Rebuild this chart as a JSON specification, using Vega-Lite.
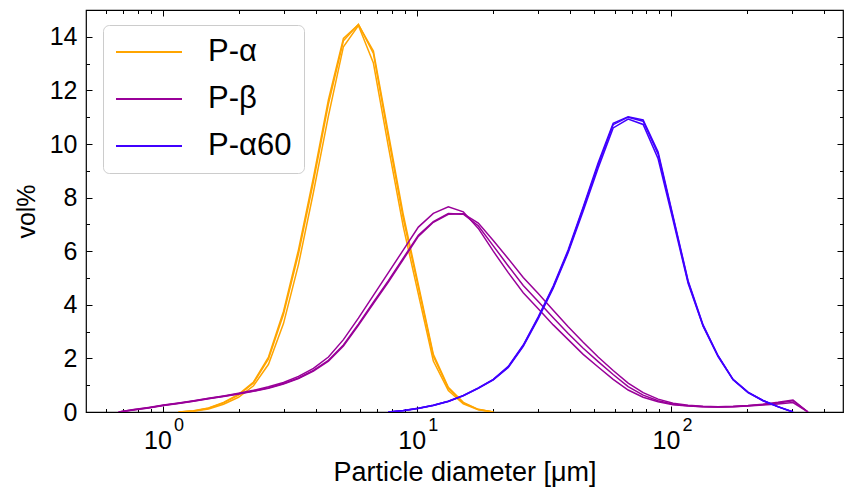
{
  "$schema": "https://vega.github.io/schema/vega-lite/v6.json",
  "width": 757,
  "height": 402,
  "autosize": {"type": "none"},
  "padding": {"left": 86, "top": 10, "right": 1, "bottom": 82},
  "background": "white",
  "config": {
    "font": "Liberation Sans",
    "view": {"stroke": "black", "strokeWidth": 1.2},
    "axis": {"domain": false, "grid": false, "tickColor": "black", "labelColor": "black", "titleColor": "black", "titleFontWeight": "normal", "labelFlush": false, "labelOverlap": false}
  },
  "data": {"values": [
    {"sample": "P-α", "run": "a1", "diameter": 1.1565, "vol": 0},
    {"sample": "P-α", "run": "a1", "diameter": 1.3246, "vol": 0.05},
    {"sample": "P-α", "run": "a1", "diameter": 1.5172, "vol": 0.15},
    {"sample": "P-α", "run": "a1", "diameter": 1.7377, "vol": 0.36},
    {"sample": "P-α", "run": "a1", "diameter": 1.9904, "vol": 0.66},
    {"sample": "P-α", "run": "a1", "diameter": 2.2797, "vol": 1.12},
    {"sample": "P-α", "run": "a1", "diameter": 2.6111, "vol": 2.05},
    {"sample": "P-α", "run": "a1", "diameter": 2.9907, "vol": 3.75},
    {"sample": "P-α", "run": "a1", "diameter": 3.4255, "vol": 6.05},
    {"sample": "P-α", "run": "a1", "diameter": 3.9234, "vol": 8.75},
    {"sample": "P-α", "run": "a1", "diameter": 4.4938, "vol": 11.65},
    {"sample": "P-α", "run": "a1", "diameter": 5.1471, "vol": 13.94},
    {"sample": "P-α", "run": "a1", "diameter": 5.8953, "vol": 14.45},
    {"sample": "P-α", "run": "a1", "diameter": 6.7523, "vol": 13.47},
    {"sample": "P-α", "run": "a1", "diameter": 7.7339, "vol": 10.4},
    {"sample": "P-α", "run": "a1", "diameter": 8.8583, "vol": 7.35},
    {"sample": "P-α", "run": "a1", "diameter": 10.146, "vol": 4.75},
    {"sample": "P-α", "run": "a1", "diameter": 11.621, "vol": 2.15},
    {"sample": "P-α", "run": "a1", "diameter": 13.31, "vol": 0.92},
    {"sample": "P-α", "run": "a1", "diameter": 15.245, "vol": 0.36},
    {"sample": "P-α", "run": "a1", "diameter": 17.462, "vol": 0.1},
    {"sample": "P-α", "run": "a1", "diameter": 20.0, "vol": 0},
    {"sample": "P-α", "run": "a2", "diameter": 1.1565, "vol": 0},
    {"sample": "P-α", "run": "a2", "diameter": 1.3246, "vol": 0.03},
    {"sample": "P-α", "run": "a2", "diameter": 1.5172, "vol": 0.11},
    {"sample": "P-α", "run": "a2", "diameter": 1.7377, "vol": 0.29},
    {"sample": "P-α", "run": "a2", "diameter": 1.9904, "vol": 0.55},
    {"sample": "P-α", "run": "a2", "diameter": 2.2797, "vol": 0.98},
    {"sample": "P-α", "run": "a2", "diameter": 2.6111, "vol": 1.78},
    {"sample": "P-α", "run": "a2", "diameter": 2.9907, "vol": 3.3},
    {"sample": "P-α", "run": "a2", "diameter": 3.4255, "vol": 5.5},
    {"sample": "P-α", "run": "a2", "diameter": 3.9234, "vol": 8.2},
    {"sample": "P-α", "run": "a2", "diameter": 4.4938, "vol": 11.05},
    {"sample": "P-α", "run": "a2", "diameter": 5.1471, "vol": 13.63},
    {"sample": "P-α", "run": "a2", "diameter": 5.8953, "vol": 14.42},
    {"sample": "P-α", "run": "a2", "diameter": 6.7523, "vol": 13.02},
    {"sample": "P-α", "run": "a2", "diameter": 7.7339, "vol": 9.9},
    {"sample": "P-α", "run": "a2", "diameter": 8.8583, "vol": 6.9},
    {"sample": "P-α", "run": "a2", "diameter": 10.146, "vol": 4.4},
    {"sample": "P-α", "run": "a2", "diameter": 11.621, "vol": 1.9},
    {"sample": "P-α", "run": "a2", "diameter": 13.31, "vol": 0.8},
    {"sample": "P-α", "run": "a2", "diameter": 15.245, "vol": 0.3},
    {"sample": "P-α", "run": "a2", "diameter": 17.462, "vol": 0.08},
    {"sample": "P-α", "run": "a2", "diameter": 20.0, "vol": 0},
    {"sample": "P-α", "run": "a3", "diameter": 1.1565, "vol": 0},
    {"sample": "P-α", "run": "a3", "diameter": 1.3246, "vol": 0.04},
    {"sample": "P-α", "run": "a3", "diameter": 1.5172, "vol": 0.14},
    {"sample": "P-α", "run": "a3", "diameter": 1.7377, "vol": 0.34},
    {"sample": "P-α", "run": "a3", "diameter": 1.9904, "vol": 0.63},
    {"sample": "P-α", "run": "a3", "diameter": 2.2797, "vol": 1.08},
    {"sample": "P-α", "run": "a3", "diameter": 2.6111, "vol": 1.98},
    {"sample": "P-α", "run": "a3", "diameter": 2.9907, "vol": 3.65},
    {"sample": "P-α", "run": "a3", "diameter": 3.4255, "vol": 5.9},
    {"sample": "P-α", "run": "a3", "diameter": 3.9234, "vol": 8.6},
    {"sample": "P-α", "run": "a3", "diameter": 4.4938, "vol": 11.5},
    {"sample": "P-α", "run": "a3", "diameter": 5.1471, "vol": 13.85},
    {"sample": "P-α", "run": "a3", "diameter": 5.8953, "vol": 14.47},
    {"sample": "P-α", "run": "a3", "diameter": 6.7523, "vol": 13.38},
    {"sample": "P-α", "run": "a3", "diameter": 7.7339, "vol": 10.25},
    {"sample": "P-α", "run": "a3", "diameter": 8.8583, "vol": 7.2},
    {"sample": "P-α", "run": "a3", "diameter": 10.146, "vol": 4.65},
    {"sample": "P-α", "run": "a3", "diameter": 11.621, "vol": 2.08},
    {"sample": "P-α", "run": "a3", "diameter": 13.31, "vol": 0.88},
    {"sample": "P-α", "run": "a3", "diameter": 15.245, "vol": 0.34},
    {"sample": "P-α", "run": "a3", "diameter": 17.462, "vol": 0.09},
    {"sample": "P-α", "run": "a3", "diameter": 20.0, "vol": 0},

    {"sample": "P-β", "run": "b1", "diameter": 0.672, "vol": 0},
    {"sample": "P-β", "run": "b1", "diameter": 0.7697, "vol": 0.09},
    {"sample": "P-β", "run": "b1", "diameter": 0.8816, "vol": 0.17},
    {"sample": "P-β", "run": "b1", "diameter": 1.0097, "vol": 0.26},
    {"sample": "P-β", "run": "b1", "diameter": 1.1565, "vol": 0.34},
    {"sample": "P-β", "run": "b1", "diameter": 1.3246, "vol": 0.42},
    {"sample": "P-β", "run": "b1", "diameter": 1.5172, "vol": 0.51},
    {"sample": "P-β", "run": "b1", "diameter": 1.7377, "vol": 0.6},
    {"sample": "P-β", "run": "b1", "diameter": 1.9904, "vol": 0.7},
    {"sample": "P-β", "run": "b1", "diameter": 2.2797, "vol": 0.81},
    {"sample": "P-β", "run": "b1", "diameter": 2.6111, "vol": 0.94},
    {"sample": "P-β", "run": "b1", "diameter": 2.9907, "vol": 1.1},
    {"sample": "P-β", "run": "b1", "diameter": 3.4255, "vol": 1.33},
    {"sample": "P-β", "run": "b1", "diameter": 3.9234, "vol": 1.63},
    {"sample": "P-β", "run": "b1", "diameter": 4.4938, "vol": 2.05},
    {"sample": "P-β", "run": "b1", "diameter": 5.1471, "vol": 2.7},
    {"sample": "P-β", "run": "b1", "diameter": 5.8953, "vol": 3.5},
    {"sample": "P-β", "run": "b1", "diameter": 6.7523, "vol": 4.35},
    {"sample": "P-β", "run": "b1", "diameter": 7.7339, "vol": 5.2},
    {"sample": "P-β", "run": "b1", "diameter": 8.8583, "vol": 6.05},
    {"sample": "P-β", "run": "b1", "diameter": 10.146, "vol": 6.9},
    {"sample": "P-β", "run": "b1", "diameter": 11.621, "vol": 7.41},
    {"sample": "P-β", "run": "b1", "diameter": 13.31, "vol": 7.66},
    {"sample": "P-β", "run": "b1", "diameter": 15.245, "vol": 7.47},
    {"sample": "P-β", "run": "b1", "diameter": 17.462, "vol": 6.85},
    {"sample": "P-β", "run": "b1", "diameter": 20.0, "vol": 6.0},
    {"sample": "P-β", "run": "b1", "diameter": 22.908, "vol": 5.2},
    {"sample": "P-β", "run": "b1", "diameter": 26.238, "vol": 4.45},
    {"sample": "P-β", "run": "b1", "diameter": 30.052, "vol": 3.85},
    {"sample": "P-β", "run": "b1", "diameter": 34.421, "vol": 3.25},
    {"sample": "P-β", "run": "b1", "diameter": 39.424, "vol": 2.7},
    {"sample": "P-β", "run": "b1", "diameter": 45.156, "vol": 2.15},
    {"sample": "P-β", "run": "b1", "diameter": 51.72, "vol": 1.68},
    {"sample": "P-β", "run": "b1", "diameter": 59.239, "vol": 1.22},
    {"sample": "P-β", "run": "b1", "diameter": 67.85, "vol": 0.82},
    {"sample": "P-β", "run": "b1", "diameter": 77.714, "vol": 0.55},
    {"sample": "P-β", "run": "b1", "diameter": 89.012, "vol": 0.38},
    {"sample": "P-β", "run": "b1", "diameter": 101.95, "vol": 0.27},
    {"sample": "P-β", "run": "b1", "diameter": 116.77, "vol": 0.22},
    {"sample": "P-β", "run": "b1", "diameter": 133.75, "vol": 0.2},
    {"sample": "P-β", "run": "b1", "diameter": 153.19, "vol": 0.19},
    {"sample": "P-β", "run": "b1", "diameter": 175.46, "vol": 0.2},
    {"sample": "P-β", "run": "b1", "diameter": 200.97, "vol": 0.23},
    {"sample": "P-β", "run": "b1", "diameter": 230.18, "vol": 0.28},
    {"sample": "P-β", "run": "b1", "diameter": 263.65, "vol": 0.34},
    {"sample": "P-β", "run": "b1", "diameter": 301.97, "vol": 0.42},
    {"sample": "P-β", "run": "b1", "diameter": 345.87, "vol": 0},
    {"sample": "P-β", "run": "b2", "diameter": 0.672, "vol": 0},
    {"sample": "P-β", "run": "b2", "diameter": 0.7697, "vol": 0.08},
    {"sample": "P-β", "run": "b2", "diameter": 0.8816, "vol": 0.16},
    {"sample": "P-β", "run": "b2", "diameter": 1.0097, "vol": 0.25},
    {"sample": "P-β", "run": "b2", "diameter": 1.1565, "vol": 0.33},
    {"sample": "P-β", "run": "b2", "diameter": 1.3246, "vol": 0.41},
    {"sample": "P-β", "run": "b2", "diameter": 1.5172, "vol": 0.5},
    {"sample": "P-β", "run": "b2", "diameter": 1.7377, "vol": 0.59},
    {"sample": "P-β", "run": "b2", "diameter": 1.9904, "vol": 0.68},
    {"sample": "P-β", "run": "b2", "diameter": 2.2797, "vol": 0.78},
    {"sample": "P-β", "run": "b2", "diameter": 2.6111, "vol": 0.9},
    {"sample": "P-β", "run": "b2", "diameter": 2.9907, "vol": 1.06},
    {"sample": "P-β", "run": "b2", "diameter": 3.4255, "vol": 1.27},
    {"sample": "P-β", "run": "b2", "diameter": 3.9234, "vol": 1.55},
    {"sample": "P-β", "run": "b2", "diameter": 4.4938, "vol": 1.93},
    {"sample": "P-β", "run": "b2", "diameter": 5.1471, "vol": 2.5},
    {"sample": "P-β", "run": "b2", "diameter": 5.8953, "vol": 3.28},
    {"sample": "P-β", "run": "b2", "diameter": 6.7523, "vol": 4.1},
    {"sample": "P-β", "run": "b2", "diameter": 7.7339, "vol": 4.9},
    {"sample": "P-β", "run": "b2", "diameter": 8.8583, "vol": 5.75},
    {"sample": "P-β", "run": "b2", "diameter": 10.146, "vol": 6.6},
    {"sample": "P-β", "run": "b2", "diameter": 11.621, "vol": 7.1},
    {"sample": "P-β", "run": "b2", "diameter": 13.31, "vol": 7.41},
    {"sample": "P-β", "run": "b2", "diameter": 15.245, "vol": 7.38},
    {"sample": "P-β", "run": "b2", "diameter": 17.462, "vol": 6.95},
    {"sample": "P-β", "run": "b2", "diameter": 20.0, "vol": 6.2},
    {"sample": "P-β", "run": "b2", "diameter": 22.908, "vol": 5.45},
    {"sample": "P-β", "run": "b2", "diameter": 26.238, "vol": 4.72},
    {"sample": "P-β", "run": "b2", "diameter": 30.052, "vol": 4.12},
    {"sample": "P-β", "run": "b2", "diameter": 34.421, "vol": 3.52},
    {"sample": "P-β", "run": "b2", "diameter": 39.424, "vol": 2.93},
    {"sample": "P-β", "run": "b2", "diameter": 45.156, "vol": 2.38},
    {"sample": "P-β", "run": "b2", "diameter": 51.72, "vol": 1.88},
    {"sample": "P-β", "run": "b2", "diameter": 59.239, "vol": 1.4},
    {"sample": "P-β", "run": "b2", "diameter": 67.85, "vol": 0.95},
    {"sample": "P-β", "run": "b2", "diameter": 77.714, "vol": 0.63},
    {"sample": "P-β", "run": "b2", "diameter": 89.012, "vol": 0.42},
    {"sample": "P-β", "run": "b2", "diameter": 101.95, "vol": 0.29},
    {"sample": "P-β", "run": "b2", "diameter": 116.77, "vol": 0.23},
    {"sample": "P-β", "run": "b2", "diameter": 133.75, "vol": 0.2},
    {"sample": "P-β", "run": "b2", "diameter": 153.19, "vol": 0.19},
    {"sample": "P-β", "run": "b2", "diameter": 175.46, "vol": 0.2},
    {"sample": "P-β", "run": "b2", "diameter": 200.97, "vol": 0.22},
    {"sample": "P-β", "run": "b2", "diameter": 230.18, "vol": 0.26},
    {"sample": "P-β", "run": "b2", "diameter": 263.65, "vol": 0.3},
    {"sample": "P-β", "run": "b2", "diameter": 301.97, "vol": 0.35},
    {"sample": "P-β", "run": "b2", "diameter": 345.87, "vol": 0},
    {"sample": "P-β", "run": "b3", "diameter": 0.672, "vol": 0},
    {"sample": "P-β", "run": "b3", "diameter": 0.7697, "vol": 0.07},
    {"sample": "P-β", "run": "b3", "diameter": 0.8816, "vol": 0.15},
    {"sample": "P-β", "run": "b3", "diameter": 1.0097, "vol": 0.24},
    {"sample": "P-β", "run": "b3", "diameter": 1.1565, "vol": 0.32},
    {"sample": "P-β", "run": "b3", "diameter": 1.3246, "vol": 0.4},
    {"sample": "P-β", "run": "b3", "diameter": 1.5172, "vol": 0.49},
    {"sample": "P-β", "run": "b3", "diameter": 1.7377, "vol": 0.58},
    {"sample": "P-β", "run": "b3", "diameter": 1.9904, "vol": 0.67},
    {"sample": "P-β", "run": "b3", "diameter": 2.2797, "vol": 0.77},
    {"sample": "P-β", "run": "b3", "diameter": 2.6111, "vol": 0.89},
    {"sample": "P-β", "run": "b3", "diameter": 2.9907, "vol": 1.04},
    {"sample": "P-β", "run": "b3", "diameter": 3.4255, "vol": 1.25},
    {"sample": "P-β", "run": "b3", "diameter": 3.9234, "vol": 1.53},
    {"sample": "P-β", "run": "b3", "diameter": 4.4938, "vol": 1.9},
    {"sample": "P-β", "run": "b3", "diameter": 5.1471, "vol": 2.46},
    {"sample": "P-β", "run": "b3", "diameter": 5.8953, "vol": 3.23},
    {"sample": "P-β", "run": "b3", "diameter": 6.7523, "vol": 4.05},
    {"sample": "P-β", "run": "b3", "diameter": 7.7339, "vol": 4.85},
    {"sample": "P-β", "run": "b3", "diameter": 8.8583, "vol": 5.7},
    {"sample": "P-β", "run": "b3", "diameter": 10.146, "vol": 6.55},
    {"sample": "P-β", "run": "b3", "diameter": 11.621, "vol": 7.08},
    {"sample": "P-β", "run": "b3", "diameter": 13.31, "vol": 7.38},
    {"sample": "P-β", "run": "b3", "diameter": 15.245, "vol": 7.4},
    {"sample": "P-β", "run": "b3", "diameter": 17.462, "vol": 7.05},
    {"sample": "P-β", "run": "b3", "diameter": 20.0, "vol": 6.4},
    {"sample": "P-β", "run": "b3", "diameter": 22.908, "vol": 5.72},
    {"sample": "P-β", "run": "b3", "diameter": 26.238, "vol": 5.02},
    {"sample": "P-β", "run": "b3", "diameter": 30.052, "vol": 4.42},
    {"sample": "P-β", "run": "b3", "diameter": 34.421, "vol": 3.8},
    {"sample": "P-β", "run": "b3", "diameter": 39.424, "vol": 3.18},
    {"sample": "P-β", "run": "b3", "diameter": 45.156, "vol": 2.6},
    {"sample": "P-β", "run": "b3", "diameter": 51.72, "vol": 2.05},
    {"sample": "P-β", "run": "b3", "diameter": 59.239, "vol": 1.55},
    {"sample": "P-β", "run": "b3", "diameter": 67.85, "vol": 1.08},
    {"sample": "P-β", "run": "b3", "diameter": 77.714, "vol": 0.72},
    {"sample": "P-β", "run": "b3", "diameter": 89.012, "vol": 0.48},
    {"sample": "P-β", "run": "b3", "diameter": 101.95, "vol": 0.33},
    {"sample": "P-β", "run": "b3", "diameter": 116.77, "vol": 0.25},
    {"sample": "P-β", "run": "b3", "diameter": 133.75, "vol": 0.21},
    {"sample": "P-β", "run": "b3", "diameter": 153.19, "vol": 0.2},
    {"sample": "P-β", "run": "b3", "diameter": 175.46, "vol": 0.21},
    {"sample": "P-β", "run": "b3", "diameter": 200.97, "vol": 0.24},
    {"sample": "P-β", "run": "b3", "diameter": 230.18, "vol": 0.29},
    {"sample": "P-β", "run": "b3", "diameter": 263.65, "vol": 0.36},
    {"sample": "P-β", "run": "b3", "diameter": 301.97, "vol": 0.45},
    {"sample": "P-β", "run": "b3", "diameter": 345.87, "vol": 0},

    {"sample": "P-α60", "run": "c1", "diameter": 7.7339, "vol": 0},
    {"sample": "P-α60", "run": "c1", "diameter": 8.8583, "vol": 0.06},
    {"sample": "P-α60", "run": "c1", "diameter": 10.146, "vol": 0.14},
    {"sample": "P-α60", "run": "c1", "diameter": 11.621, "vol": 0.25},
    {"sample": "P-α60", "run": "c1", "diameter": 13.31, "vol": 0.4},
    {"sample": "P-α60", "run": "c1", "diameter": 15.245, "vol": 0.62},
    {"sample": "P-α60", "run": "c1", "diameter": 17.462, "vol": 0.9},
    {"sample": "P-α60", "run": "c1", "diameter": 20.0, "vol": 1.22},
    {"sample": "P-α60", "run": "c1", "diameter": 22.908, "vol": 1.7},
    {"sample": "P-α60", "run": "c1", "diameter": 26.238, "vol": 2.5},
    {"sample": "P-α60", "run": "c1", "diameter": 30.052, "vol": 3.55},
    {"sample": "P-α60", "run": "c1", "diameter": 34.421, "vol": 4.7},
    {"sample": "P-α60", "run": "c1", "diameter": 39.424, "vol": 6.05},
    {"sample": "P-α60", "run": "c1", "diameter": 45.156, "vol": 7.65},
    {"sample": "P-α60", "run": "c1", "diameter": 51.72, "vol": 9.3},
    {"sample": "P-α60", "run": "c1", "diameter": 59.239, "vol": 10.77},
    {"sample": "P-α60", "run": "c1", "diameter": 67.85, "vol": 11.02},
    {"sample": "P-α60", "run": "c1", "diameter": 77.714, "vol": 10.9},
    {"sample": "P-α60", "run": "c1", "diameter": 89.012, "vol": 9.7},
    {"sample": "P-α60", "run": "c1", "diameter": 101.95, "vol": 7.3},
    {"sample": "P-α60", "run": "c1", "diameter": 116.77, "vol": 4.9},
    {"sample": "P-α60", "run": "c1", "diameter": 133.75, "vol": 3.25},
    {"sample": "P-α60", "run": "c1", "diameter": 153.19, "vol": 2.1},
    {"sample": "P-α60", "run": "c1", "diameter": 175.46, "vol": 1.22},
    {"sample": "P-α60", "run": "c1", "diameter": 200.97, "vol": 0.74},
    {"sample": "P-α60", "run": "c1", "diameter": 230.18, "vol": 0.43},
    {"sample": "P-α60", "run": "c1", "diameter": 263.65, "vol": 0.2},
    {"sample": "P-α60", "run": "c1", "diameter": 301.97, "vol": 0},
    {"sample": "P-α60", "run": "c2", "diameter": 7.7339, "vol": 0},
    {"sample": "P-α60", "run": "c2", "diameter": 8.8583, "vol": 0.05},
    {"sample": "P-α60", "run": "c2", "diameter": 10.146, "vol": 0.13},
    {"sample": "P-α60", "run": "c2", "diameter": 11.621, "vol": 0.24},
    {"sample": "P-α60", "run": "c2", "diameter": 13.31, "vol": 0.39},
    {"sample": "P-α60", "run": "c2", "diameter": 15.245, "vol": 0.6},
    {"sample": "P-α60", "run": "c2", "diameter": 17.462, "vol": 0.88},
    {"sample": "P-α60", "run": "c2", "diameter": 20.0, "vol": 1.2},
    {"sample": "P-α60", "run": "c2", "diameter": 22.908, "vol": 1.66},
    {"sample": "P-α60", "run": "c2", "diameter": 26.238, "vol": 2.45},
    {"sample": "P-α60", "run": "c2", "diameter": 30.052, "vol": 3.48},
    {"sample": "P-α60", "run": "c2", "diameter": 34.421, "vol": 4.62},
    {"sample": "P-α60", "run": "c2", "diameter": 39.424, "vol": 5.95},
    {"sample": "P-α60", "run": "c2", "diameter": 45.156, "vol": 7.5},
    {"sample": "P-α60", "run": "c2", "diameter": 51.72, "vol": 9.1},
    {"sample": "P-α60", "run": "c2", "diameter": 59.239, "vol": 10.6},
    {"sample": "P-α60", "run": "c2", "diameter": 67.85, "vol": 10.93},
    {"sample": "P-α60", "run": "c2", "diameter": 77.714, "vol": 10.73},
    {"sample": "P-α60", "run": "c2", "diameter": 89.012, "vol": 9.45},
    {"sample": "P-α60", "run": "c2", "diameter": 101.95, "vol": 7.15},
    {"sample": "P-α60", "run": "c2", "diameter": 116.77, "vol": 4.8},
    {"sample": "P-α60", "run": "c2", "diameter": 133.75, "vol": 3.2},
    {"sample": "P-α60", "run": "c2", "diameter": 153.19, "vol": 2.07},
    {"sample": "P-α60", "run": "c2", "diameter": 175.46, "vol": 1.2},
    {"sample": "P-α60", "run": "c2", "diameter": 200.97, "vol": 0.72},
    {"sample": "P-α60", "run": "c2", "diameter": 230.18, "vol": 0.42},
    {"sample": "P-α60", "run": "c2", "diameter": 263.65, "vol": 0.19},
    {"sample": "P-α60", "run": "c2", "diameter": 301.97, "vol": 0},
    {"sample": "P-α60", "run": "c3", "diameter": 7.7339, "vol": 0},
    {"sample": "P-α60", "run": "c3", "diameter": 8.8583, "vol": 0.06},
    {"sample": "P-α60", "run": "c3", "diameter": 10.146, "vol": 0.14},
    {"sample": "P-α60", "run": "c3", "diameter": 11.621, "vol": 0.25},
    {"sample": "P-α60", "run": "c3", "diameter": 13.31, "vol": 0.4},
    {"sample": "P-α60", "run": "c3", "diameter": 15.245, "vol": 0.61},
    {"sample": "P-α60", "run": "c3", "diameter": 17.462, "vol": 0.89},
    {"sample": "P-α60", "run": "c3", "diameter": 20.0, "vol": 1.21},
    {"sample": "P-α60", "run": "c3", "diameter": 22.908, "vol": 1.68},
    {"sample": "P-α60", "run": "c3", "diameter": 26.238, "vol": 2.48},
    {"sample": "P-α60", "run": "c3", "diameter": 30.052, "vol": 3.52},
    {"sample": "P-α60", "run": "c3", "diameter": 34.421, "vol": 4.66},
    {"sample": "P-α60", "run": "c3", "diameter": 39.424, "vol": 6.0},
    {"sample": "P-α60", "run": "c3", "diameter": 45.156, "vol": 7.6},
    {"sample": "P-α60", "run": "c3", "diameter": 51.72, "vol": 9.22},
    {"sample": "P-α60", "run": "c3", "diameter": 59.239, "vol": 10.72},
    {"sample": "P-α60", "run": "c3", "diameter": 67.85, "vol": 11.0},
    {"sample": "P-α60", "run": "c3", "diameter": 77.714, "vol": 10.85},
    {"sample": "P-α60", "run": "c3", "diameter": 89.012, "vol": 9.62},
    {"sample": "P-α60", "run": "c3", "diameter": 101.95, "vol": 7.25},
    {"sample": "P-α60", "run": "c3", "diameter": 116.77, "vol": 4.86},
    {"sample": "P-α60", "run": "c3", "diameter": 133.75, "vol": 3.22},
    {"sample": "P-α60", "run": "c3", "diameter": 153.19, "vol": 2.09},
    {"sample": "P-α60", "run": "c3", "diameter": 175.46, "vol": 1.21},
    {"sample": "P-α60", "run": "c3", "diameter": 200.97, "vol": 0.73},
    {"sample": "P-α60", "run": "c3", "diameter": 230.18, "vol": 0.43},
    {"sample": "P-α60", "run": "c3", "diameter": 263.65, "vol": 0.2},
    {"sample": "P-α60", "run": "c3", "diameter": 301.97, "vol": 0}
  ]},
  "resolve": {"axis": {"x": "independent", "y": "independent"}},
  "layer": [
    {
      "mark": {"type": "line", "strokeWidth": 1.5, "clip": true},
      "encoding": {
        "x": {
          "field": "diameter", "type": "quantitative",
          "scale": {"type": "log", "domain": [0.5, 475], "nice": false},
          "axis": {"orient": "bottom", "values": [1, 10, 100], "labelExpr": "'10'", "labelFontSize": 25, "labelOffset": -5, "tickSize": -6, "labelPadding": 22, "title": "Particle diameter [μm]", "titleFontSize": 27, "titlePadding": 6}
        },
        "y": {
          "field": "vol", "type": "quantitative",
          "scale": {"domain": [0, 15], "nice": false},
          "axis": {"orient": "left", "values": [0, 2, 4, 6, 8, 10, 12, 14], "labelFontSize": 25, "tickSize": -6, "labelPadding": 15, "title": "vol%", "titleFontSize": 25, "titlePadding": 10}
        },
        "color": {
          "field": "sample", "type": "nominal",
          "scale": {"domain": ["P-α", "P-β", "P-α60"], "range": ["#ffa500", "#990099", "#4000ff"]},
          "legend": {"orient": "none", "legendX": 17, "legendY": 15, "title": null, "symbolType": "stroke", "symbolSize": 4356, "symbolStrokeWidth": 2, "clipHeight": 30, "labelFontSize": 31, "labelOffset": 25, "labelColor": "black", "padding": 12, "rowPadding": 16, "fillColor": "rgba(255,255,255,0.8)", "strokeColor": "#cccccc", "cornerRadius": 6}
        },
        "detail": {"field": "run", "type": "nominal"}
      }
    },
    {
      "mark": {"type": "point", "opacity": 0},
      "encoding": {
        "x": {"field": "diameter", "type": "quantitative", "scale": {"type": "log", "domain": [0.5, 475], "nice": false},
          "axis": {"orient": "bottom", "values": [0.6, 0.7, 0.8, 0.9, 2, 3, 4, 5, 6, 7, 8, 9, 20, 30, 40, 50, 60, 70, 80, 90, 200, 300, 400], "labels": false, "tickSize": -3.5, "title": null}},
        "y": {"field": "vol", "type": "quantitative", "scale": {"domain": [0, 15], "nice": false},
          "axis": {"orient": "left", "values": [1, 3, 5, 7, 9, 11, 13], "labels": false, "tickSize": -3.5, "title": null}}
      }
    },
    {
      "mark": {"type": "point", "opacity": 0},
      "encoding": {
        "x": {"field": "diameter", "type": "quantitative", "scale": {"type": "log", "domain": [0.5, 475], "nice": false},
          "axis": {"orient": "top", "values": [1, 10, 100], "labels": false, "tickSize": -6, "title": null}},
        "y": {"field": "vol", "type": "quantitative", "scale": {"domain": [0, 15], "nice": false},
          "axis": {"orient": "right", "values": [0, 2, 4, 6, 8, 10, 12, 14], "labels": false, "tickSize": -6, "title": null}}
      }
    },
    {
      "mark": {"type": "point", "opacity": 0},
      "encoding": {
        "x": {"field": "diameter", "type": "quantitative", "scale": {"type": "log", "domain": [0.5, 475], "nice": false},
          "axis": {"orient": "top", "values": [0.6, 0.7, 0.8, 0.9, 2, 3, 4, 5, 6, 7, 8, 9, 20, 30, 40, 50, 60, 70, 80, 90, 200, 300, 400], "labels": false, "tickSize": -3.5, "title": null}},
        "y": {"field": "vol", "type": "quantitative", "scale": {"domain": [0, 15], "nice": false},
          "axis": {"orient": "right", "values": [1, 3, 5, 7, 9, 11, 13], "labels": false, "tickSize": -3.5, "title": null}}
      }
    },
    {
      "mark": {"type": "point", "opacity": 0},
      "encoding": {
        "x": {"field": "diameter", "type": "quantitative", "scale": {"type": "log", "domain": [0.5, 475], "nice": false},
          "axis": {"orient": "bottom", "values": [1, 10, 100], "ticks": false, "tickSize": 0, "labelExpr": "datum.value < 5 ? '0' : datum.value < 50 ? '1' : '2'", "labelFontSize": 18, "labelOffset": 16, "labelBaseline": "middle", "labelPadding": 13, "title": null}},
        "y": {"field": "vol", "type": "quantitative", "scale": {"domain": [0, 15], "nice": false}, "axis": null}
      }
    }
  ]
}
